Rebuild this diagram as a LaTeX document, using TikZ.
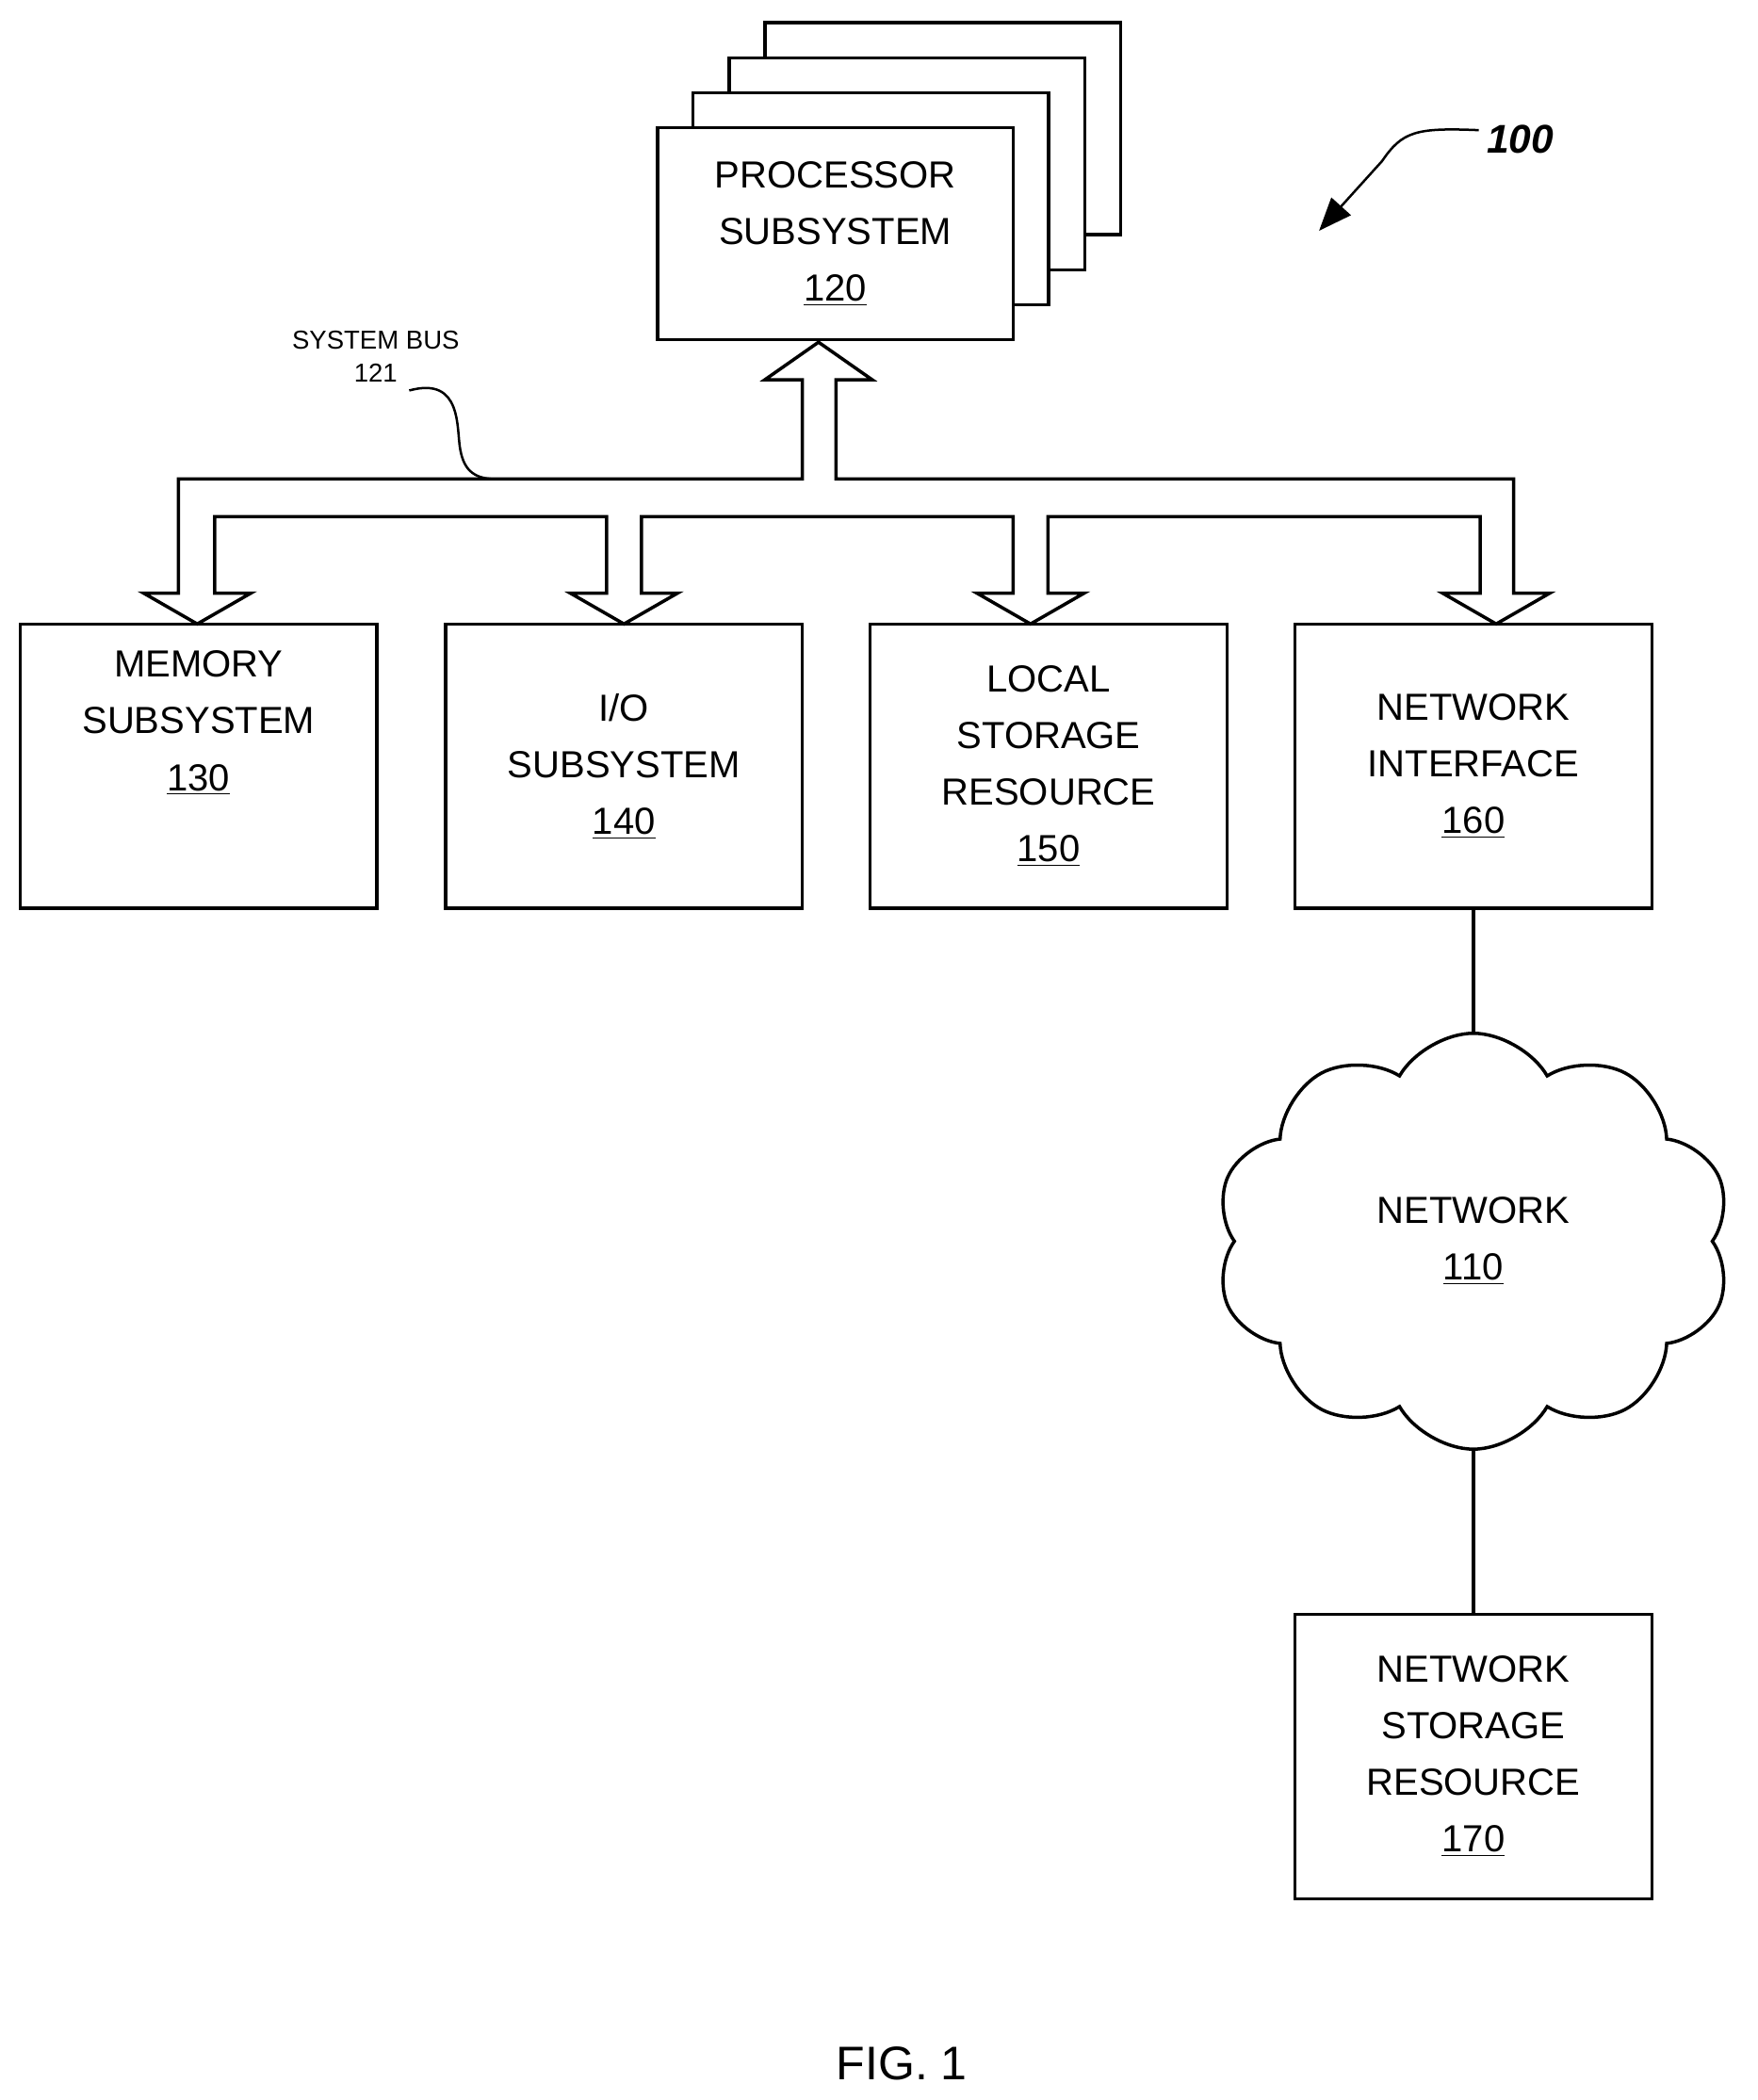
\documentclass[tikz,border=0pt]{standalone}
\usepackage{fontspec}
\setmainfont{Liberation Sans}
\usetikzlibrary{shapes.symbols,arrows.meta}
\tikzset{
  box/.style={draw, line width=1.4pt, fill=white, minimum width=5.32cm, minimum height=4.24cm, align=center, font=\fontsize{16}{24}\selectfont},
  txt/.style={align=center, font=\fontsize{16}{24}\selectfont},
}
\begin{document}
\begin{tikzpicture}[x=0.02cm, y=-0.02cm, line width=1.4pt]
    \useasboundingbox (0,0) rectangle (1310,1565);
    % processor stack
    \node[box, minimum width=5.3cm, minimum height=3.16cm] (p4) at (702.5,96) {};
    \node[box, minimum width=5.3cm, minimum height=3.16cm] (p3) at (676,122) {};
    \node[box, minimum width=5.3cm, minimum height=3.16cm] (p2) at (649,148) {};
    \node[box, minimum width=5.3cm, minimum height=3.16cm] (proc) at (622.5,174) {PROCESSOR\\SUBSYSTEM\\\underline{120}};

    \node[box] (mem) at (148,571) {};
    \node[txt] (memtxt) at (148,539) {MEMORY\\SUBSYSTEM\\\underline{130}};
    \node[box] (io) at (465,571) {I/O\\SUBSYSTEM\\\underline{140}};
    \node[box] (local) at (781.5,571) {LOCAL\\STORAGE\\RESOURCE\\\underline{150}};
    \node[box] (nic) at (1098,571) {NETWORK\\INTERFACE\\\underline{160}};
    \node[draw, cloud, cloud puffs=10, cloud puff arc=120, aspect=1.25, minimum width=7.7cm, minimum height=6.2cm, txt] (net) at (1098,925) {NETWORK\\\underline{110}};
    \node[box] (nsr) at (1098,1309) {NETWORK\\STORAGE\\RESOURCE\\\underline{170}};

    % system bus
    \draw[line join=miter] (610,255) -- (650,283) -- (623,283) -- (623,357) -- (1128,357) -- (1128,442) -- (1155,442) -- (1115,465) -- (1075,442) -- (1103,442) -- (1103,385) -- (781,385) -- (781,442) -- (808,442) -- (768,465) -- (728,442) -- (755,442) -- (755,385) -- (478,385) -- (478,442) -- (505,442) -- (465,465) -- (425,442) -- (452,442) -- (452,385) -- (160,385) -- (160,442) -- (187,442) -- (147,465) -- (107,442) -- (133,442) -- (133,357) -- (598,357) -- (598,283) -- (570,283) -- cycle;
    \node[font=\fontsize{11}{14}\selectfont, align=center] (bus) at (280,266) {SYSTEM BUS\\121};
    \coordinate (busend) at (370,357);
    \draw[line width=1pt] (305,291) .. controls (345,280) and (340,320) .. (343,335) .. controls (346,352) and (355,357) .. (busend);

    \draw (nic) -- (net.north);
    \draw (net.south) -- (nsr);

    % reference numeral
    \node[font=\fontsize{17}{20}\selectfont\bfseries\itshape] (ref) at (1133,104) {100};
    \coordinate (refarrow) at (983,172);
    \draw[-{Triangle[length=14pt,width=11pt]}, line width=1pt] (1102,97) .. controls (1055,95) and (1045,98) .. (1030,120) -- (refarrow);

    \node[font=\fontsize{20}{24}\selectfont] (fig) at (672,1538) {FIG. 1};
\end{tikzpicture}
\end{document}
